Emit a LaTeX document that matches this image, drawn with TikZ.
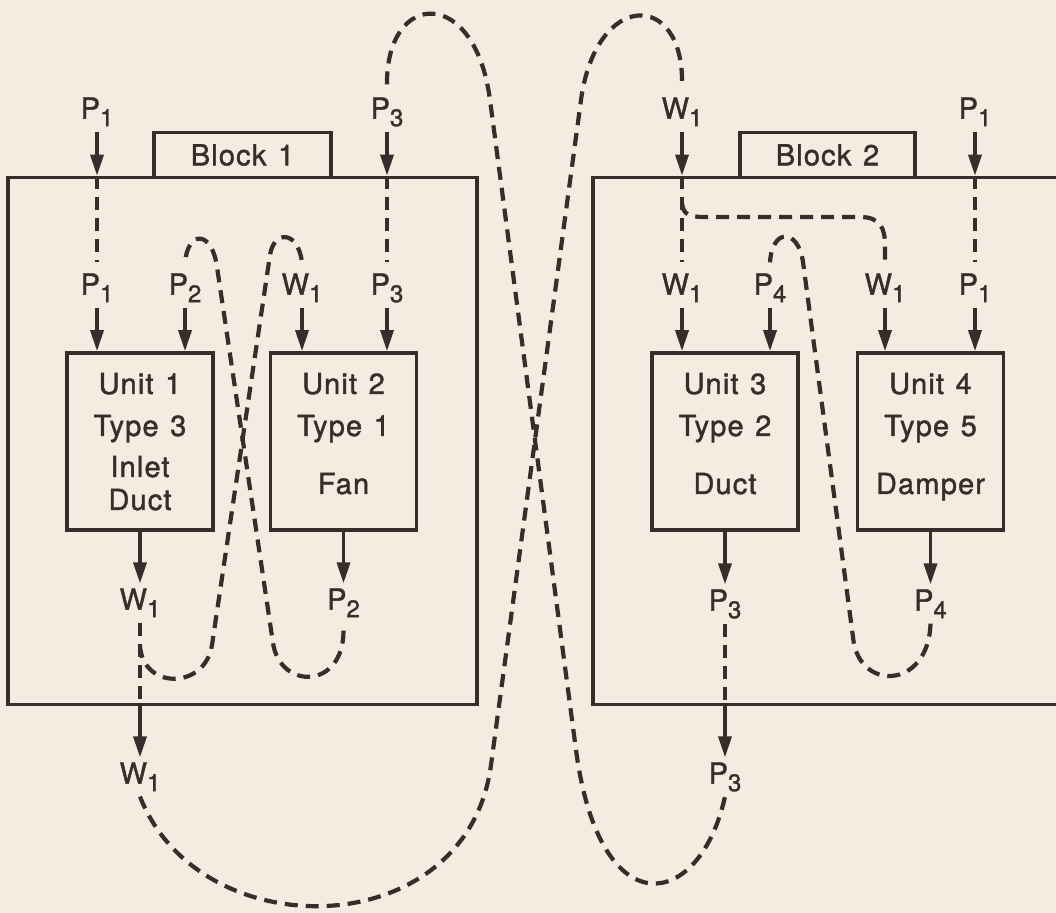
\documentclass[tikz,border=0pt]{standalone}
\usepackage{fontspec}
\setmainfont{TeX Gyre Heros}[LetterSpace=4,FakeBold=1.3]
\usetikzlibrary{arrows.meta}
\definecolor{ink}{RGB}{58,44,42}
\definecolor{paper}{RGB}{242,237,224}
\newcommand{\wsp}{\hspace{0.4em}}
\newcommand{\sbs}[1]{\raisebox{-3.8pt}{\fontsize{12}{12}\selectfont #1}}
\begin{document}
\begin{tikzpicture}[x=0.5pt,y=-0.5pt,
  every node/.style={text=ink, font=\fontsize{14.5}{16}\selectfont},
  lbl/.style={inner sep=2.5pt, text height=10.4pt, text depth=3.8pt},
  unitbox/.style={draw=ink, line width=1.8pt, minimum width=73pt, minimum height=88.5pt, inner sep=0pt},
  blockbox/.style={draw=ink, line width=1.8pt, minimum width=234.5pt, minimum height=263.5pt, inner sep=0pt},
  tabbox/.style={draw=ink, fill=paper, line width=1.8pt, minimum height=22.5pt, inner sep=0pt},
  arr/.style={draw=ink, line width=1.7pt, -{Triangle[length=10.5pt,width=6.5pt]}},
  dsh/.style={draw=ink, line width=2.1pt, dash pattern=on 6.5pt off 4pt},
  utxt/.style={anchor=base, inner sep=0pt}]
\useasboundingbox (0,0) rectangle (1056,913);
\fill[paper] (0,0) rectangle (1056,913);
\clip (0,0) rectangle (1056,913);

% blocks and tabs
\node[blockbox] (b1) at (242.5,441) {};
\node[blockbox] (b2) at (827.5,441) {};
\node[tabbox, minimum width=88.5pt] (tb1) at (242.5,155) {Block\wsp 1};
\node[tabbox, minimum width=87.5pt] (tb2) at (827.5,155) {Block\wsp 2};

% units
\node[unitbox] (u1) at (140,441.5) {};
\node[unitbox] (u2) at (343.5,441.5) {};
\node[unitbox] (u3) at (725,441.5) {};
\node[unitbox] (u4) at (930.5,441.5) {};

\node[utxt] (u1a) at (140,394) {Unit\wsp 1};
\node[utxt] (u1b) at (140,436) {Type\wsp 3};
\node[utxt] (u1c) at (140,477) {Inlet};
\node[utxt] (u1d) at (140,510) {Duct};
\node[utxt] (u2a) at (343.5,394) {Unit\wsp 2};
\node[utxt] (u2b) at (343.5,436) {Type\wsp 1};
\node[utxt] (u2c) at (343.5,494) {Fan};
\node[utxt] (u3a) at (725,394) {Unit\wsp 3};
\node[utxt] (u3b) at (725,436) {Type\wsp 2};
\node[utxt] (u3c) at (725,494) {Duct};
\node[utxt] (u4a) at (930.5,394) {Unit\wsp 4};
\node[utxt] (u4b) at (930.5,436) {Type\wsp 5};
\node[utxt] (u4c) at (930.5,494) {Damper};

% top labels
\node[lbl] (tP1a) at (97,112) {P\sbs{1}};
\node[lbl] (tP3b) at (387,112) {P\sbs{3}};
\node[lbl] (tW1c) at (682,112) {W\sbs{1}};
\node[lbl] (tP1d) at (975,112) {P\sbs{1}};

% inner input labels
\node[lbl] (iP1a) at (97,288) {P\sbs{1}};
\node[lbl] (iP2a) at (185,288) {P\sbs{2}};
\node[lbl] (iW1b) at (302,288) {W\sbs{1}};
\node[lbl] (iP3b) at (387,288) {P\sbs{3}};
\node[lbl] (iW1c) at (682,288) {W\sbs{1}};
\node[lbl] (iP4c) at (770,288) {P\sbs{4}};
\node[lbl] (iW1d) at (885,288) {W\sbs{1}};
\node[lbl] (iP1d) at (975,288) {P\sbs{1}};

% output labels
\node[lbl] (oW1a) at (140,603) {W\sbs{1}};
\node[lbl] (oP2) at (343.5,603) {P\sbs{2}};
\node[lbl] (oP3c) at (725,604) {P\sbs{3}};
\node[lbl] (oP4) at (930.5,604) {P\sbs{4}};

% outer output labels
\node[lbl] (oW1o) at (140,777) {W\sbs{1}};
\node[lbl] (oP3o) at (725,777) {P\sbs{3}};

% junctions
\coordinate (brA) at (140,645);
\coordinate (brB) at (682,203);

% block inputs
\draw[arr] (tP1a.south) -- (tP1a.south |- b1.north);
\draw[dsh] (tP1a.south |- b1.north) -- ([yshift=3pt]iP1a.north);
\draw[arr] (tP3b.south) -- (tP3b.south |- b1.north);
\draw[dsh] (tP3b.south |- b1.north) -- ([yshift=3pt]iP3b.north);
\draw[arr] (tW1c.south) -- (tW1c.south |- b2.north);
\draw[dsh] (tW1c.south |- b2.north) -- ([yshift=3pt]iW1c.north);
\draw[arr] (tP1d.south) -- (tP1d.south |- b2.north);
\draw[dsh] (tP1d.south |- b2.north) -- ([yshift=3pt]iP1d.north);

% unit inputs
\draw[arr] (iP1a.south) -- (iP1a.south |- u1.north);
\draw[arr] (iP2a.south) -- (iP2a.south |- u1.north);
\draw[arr] (iW1b.south) -- (iW1b.south |- u2.north);
\draw[arr] (iP3b.south) -- (iP3b.south |- u2.north);
\draw[arr] (iW1c.south) -- (iW1c.south |- u3.north);
\draw[arr] (iP4c.south) -- (iP4c.south |- u3.north);
\draw[arr] (iW1d.south) -- (iW1d.south |- u4.north);
\draw[arr] (iP1d.south) -- (iP1d.south |- u4.north);

% unit outputs
\draw[arr] (oW1a.north |- u1.south) -- (oW1a.north);
\draw[arr] (oP2.north |- u2.south) -- (oP2.north);
\draw[arr] (oP3c.north |- u3.south) -- (oP3c.north);
\draw[arr] (oP4.north |- u4.south) -- (oP4.north);

% block outputs
\draw[dsh] (oW1a.south) -- (oW1a.south |- b1.south);
\draw[arr] (oW1o.north |- b1.south) -- (oW1o.north);
\draw[dsh] (oP3c.south) -- (oP3c.south |- b2.south);
\draw[arr] (oP3o.north |- b2.south) -- (oP3o.north);

% internal links, block 1
\draw[dsh] (brA) .. controls (142,690) and (205,690) .. (212,645) -- (270,255)
  .. controls (274,230) and (298,230) .. ([yshift=3pt]iW1b.north);
\draw[dsh] ([yshift=-4pt]oP2.south) .. controls (343.5,690) and (280,690) .. (273,643) -- (217,267)
  .. controls (212,230) and (188,230) .. ([yshift=3pt]iP2a.north);

% internal links, block 2
\draw[dsh] (brB) .. controls (683,215) and (690,217) .. (705,217) -- (860,217)
  .. controls (880,217) and (885,228) .. (885,245) -- ([yshift=3pt]iW1d.north);
\draw[dsh] (oP4.south) .. controls (928.5,690) and (858,692) .. (853,637) -- (803,262)
  .. controls (798,228) and (772,228) .. ([yshift=3pt]iP4c.north);

% links between blocks
\draw[dsh] (oW1o.south) .. controls (200,950) and (467,945) .. (491,765) -- (581,100)
  .. controls (596,-10) and (684,-10) .. ([yshift=4pt]tW1c.north);
\draw[dsh] ([yshift=4pt]tP3b.north) .. controls (386,-10) and (475,-15) .. (490,100) -- (576,750)
  .. controls (600,930) and (700,910) .. (oP3o.south);
\end{tikzpicture}
\end{document}
